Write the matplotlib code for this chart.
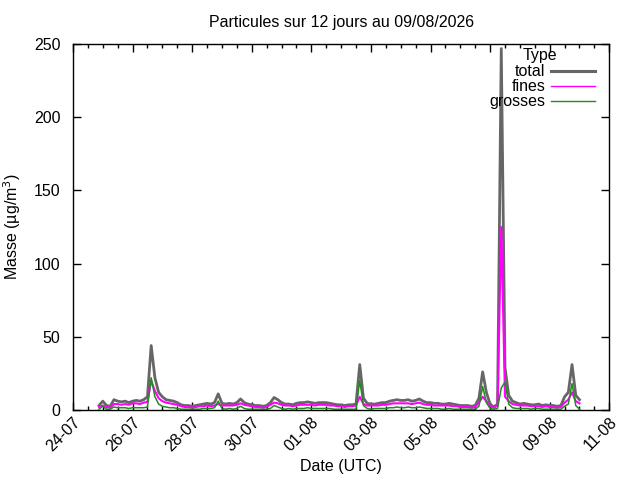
import numpy as np
import pandas as pd
import matplotlib
matplotlib.use('Agg')
import matplotlib.pyplot as plt
import matplotlib.dates as mdates

plt.rcParams['font.family'] = ['Liberation Sans', 'DejaVu Sans']

# 3-hourly samples starting 24-07 21:00
start = '2026-07-24 21:00'
n_pts = 130

total = [3, 6, 3, 2.5,
         7, 6, 5.5, 6, 5, 6, 6.5, 6, 7, 9,
         44, 22, 12, 9, 7, 6.5, 6, 5,
         3.5, 3, 3, 2.5, 3, 3.5, 4, 4.5, 4, 5,
         11, 4.5,
         4, 4.5, 4, 5,
         7.5, 5,
         4, 3.5, 3, 3, 2.5, 3,
         5, 8.5, 7, 5,
         4, 4, 3.5, 4.5, 5, 5, 5.5, 5, 4.5, 5, 5, 5, 4.5, 4, 3.5, 3.5, 3, 3.5, 3.5, 4,
         31, 8,
         4.5, 4, 4, 4.5, 5, 5,
         6, 6.5, 7, 6.5, 6.5, 7, 6, 6.5, 7.5,
         6, 5, 5, 4.5, 4.5, 4, 4, 4.5, 4, 3.5, 3, 3, 3, 2.5, 3,
         8, 26, 12, 4,
         2, 4, 247, 29, 10, 6,
         5, 4, 4.5, 4, 3.5, 3.5, 4, 3, 3.5, 3, 3, 2.5, 3,
         9, 12, 31, 10, 7]

fines = [2, 3, 2, 1.5,
         4, 4, 3.5, 4, 3.5, 4.5, 4.5, 4, 5, 5.5,
         20, 13, 8, 6, 5, 4.5, 4, 3.5,
         2.5, 2, 2, 1.5, 2, 2.5, 2.5, 3, 2.5, 3,
         4, 3,
         3, 3, 3, 3.5,
         4.5, 3.5,
         3, 2.5, 2, 2, 1.5, 2,
         3.5, 5, 4.5, 3.5,
         3, 3, 2.5, 3, 3.5, 3.5, 3.5, 3.5, 3, 3.5, 3.5, 3.5, 3, 3, 2.5, 2.5, 2, 2.5, 2.5, 3,
         9, 4,
         3, 3, 3, 3, 3.5, 3.5,
         4, 4.5, 4.5, 4.5, 4.5, 4.5, 4, 4.5, 5,
         4, 3.5, 3.5, 3, 3, 3, 3, 3, 2.5, 2.5, 2, 2, 2, 1.5, 2,
         5, 9, 6, 2.5,
         1.5, 3, 125, 9, 6, 4,
         3.5, 3, 3, 3, 2.5, 2.5, 2.5, 2, 2.5, 2, 2, 1.5, 2,
         5, 7, 12, 6, 4.5]

grosses = [0.5, 2.5, 0.5, 0.5,
           2, 1.5, 1.5, 1.5, 1, 1.5, 1.5, 1.5, 1.5, 2,
           22, 9, 4, 2.5, 2, 1.5, 1.5, 1,
           0.5, 0.5, 0.5, 0.5, 0.5, 0.5, 1, 1, 1, 1.5,
           6, 1,
           0.5, 1, 0.5, 1,
           2.5, 1,
           0.5, 0.5, 0.5, 0.5, 0.5, 0.5,
           1, 3, 2, 1,
           0.5, 1, 0.5, 1, 1, 1, 1.5, 1, 1, 1, 1, 1, 1, 0.5, 0.5, 0.5, 0.5, 0.5, 0.5, 0.5,
           20, 3,
           1, 0.5, 1, 1, 1, 1,
           1.5, 1.5, 2, 1.5, 1.5, 2, 1.5, 1.5, 2,
           1.5, 1, 1, 1, 1, 0.5, 0.5, 1, 0.5, 0.5, 0.5, 0.5, 0.5, 0.5, 0.5,
           2.5, 16, 5, 1,
           0.5, 1, 15, 19, 4, 1.5,
           1, 1, 1, 1, 0.5, 1, 1, 0.5, 0.5, 0.5, 0.5, 0.5, 0.5,
           2.5, 4, 18, 3, 0.5]

times = pd.date_range(start, periods=n_pts, freq='3h')

fs = 11.5
fig = plt.figure(figsize=(6.4, 4.8), dpi=100)
ax = fig.add_axes([0.114, 0.146, 0.838, 0.762])

c_total = '#666666'
c_fines = '#ff00ff'
c_gros = '#228b22'

ax.plot(times, total, color=c_total, lw=2.0)
ax.plot(times, fines, color=c_fines, lw=1.5)
ax.plot(times, grosses, color=c_gros, lw=1.1)

ax.set_xlim(pd.Timestamp('2026-07-24'), pd.Timestamp('2026-08-11'))
ax.set_ylim(0, 250)

major = pd.date_range('2026-07-24', '2026-08-11', freq='2D')
minor = pd.date_range('2026-07-24', '2026-08-11', freq='12h')
ax.set_xticks(major)
ax.set_xticks(minor, minor=True)
ax.xaxis.set_major_formatter(mdates.DateFormatter('%d-%m'))
ax.set_yticks(np.arange(0, 251, 50))

ax.tick_params(axis='both', which='major', direction='in', length=6, width=1,
               top=True, right=True, labelsize=fs)
ax.tick_params(axis='y', which='major', pad=9)
ax.tick_params(axis='both', which='minor', direction='in', length=3, width=1,
               top=True, right=True)
for lab in ax.get_xticklabels():
    lab.set_rotation(45)
    lab.set_ha('right')
    lab.set_rotation_mode('anchor')

for s in ax.spines.values():
    s.set_linewidth(1)

ax.set_title('Particules sur 12 jours au 09/08/2026', fontsize=fs, pad=12)
ax.set_xlabel('Date (UTC)', fontsize=fs)
ax.set_ylabel('Masse (µg/m$^3$)', fontsize=fs)
ax.xaxis.set_label_coords(0.5, -0.134)
ax.yaxis.set_label_coords(-0.093, 0.5)

# legend drawn gnuplot-style: right-justified labels, samples on the right
ax.text(0.87, 0.97, 'Type', transform=ax.transAxes, ha='center', va='center', fontsize=fs)
names = ['total', 'fines', 'grosses']
cols = [c_total, c_fines, c_gros]
widths = [2.2, 1.0, 1.0]
rows = [0.926, 0.885, 0.844]
for nm, c, w, yy in zip(names, cols, widths, rows):
    ax.text(0.881, yy, nm, transform=ax.transAxes, ha='right', va='center', fontsize=fs)
    ax.plot([0.892, 0.974], [yy, yy], transform=ax.transAxes, color=c, lw=w)

fig.savefig('out.png', dpi=100)
